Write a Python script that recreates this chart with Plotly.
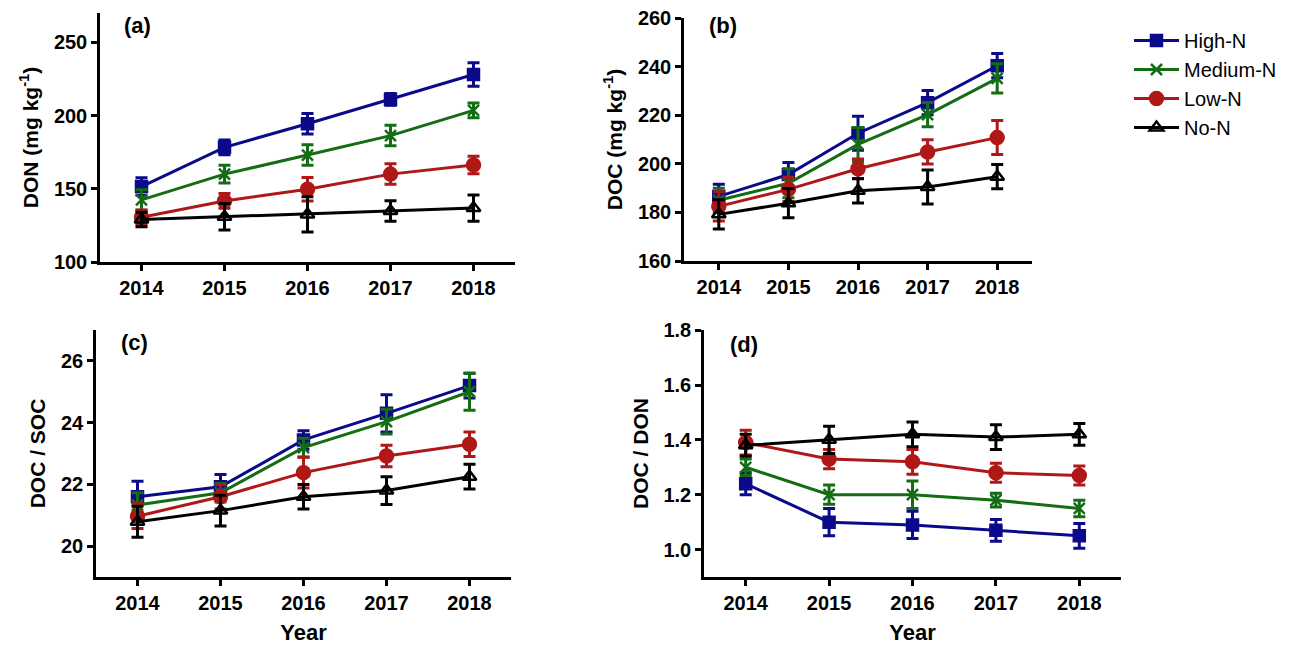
import plotly.graph_objects as go

years = [2014, 2015, 2016, 2017, 2018]
treatments = ["High-N", "Medium-N", "Low-N", "No-N"]

# (a) DON
don_mean = {
    "High-N": [151.5, 178.3, 194.4, 211.0, 228.0],
    "Medium-N": [142.4, 160.0, 173.0, 186.3, 203.5],
    "Low-N": [130.5, 141.7, 149.7, 160.0, 166.2],
    "No-N": [129.0, 130.9, 132.5, 134.8, 136.8],
}
don_err = {
    "High-N": [6, 5, 7, 4, 8],
    "Medium-N": [7, 6, 7, 7, 5],
    "Low-N": [5, 5, 8, 7, 6],
    "No-N": [5, 9, 12, 7, 9],
}

# (b) DOC
doc_mean = {
    "High-N": [186.6, 195.6, 212.6, 225.2, 240.4],
    "Medium-N": [185.0, 192.0, 208.0, 220.3, 235.2],
    "Low-N": [182.5, 189.5, 198.0, 204.9, 210.8],
    "No-N": [179.2, 183.8, 188.9, 190.5, 194.7],
}
doc_err = {
    "High-N": [5, 5, 7, 5, 5],
    "Medium-N": [5, 6, 7, 5, 6],
    "Low-N": [6, 5, 4, 5, 7],
    "No-N": [6, 6, 5, 7, 5],
}

# (c) DOC / SOC
docsoc_mean = {
    "High-N": [21.6, 21.92, 23.44, 24.3, 25.2],
    "Medium-N": [21.33, 21.73, 23.19, 24.03, 25.0],
    "Low-N": [20.97, 21.6, 22.38, 22.92, 23.3],
    "No-N": [20.79, 21.15, 21.6, 21.8, 22.25],
}
docsoc_err = {
    "High-N": [0.5, 0.4, 0.3, 0.6, 0.4],
    "Medium-N": [0.4, 0.3, 0.3, 0.4, 0.6],
    "Low-N": [0.4, 0.4, 0.5, 0.35, 0.4],
    "No-N": [0.5, 0.5, 0.4, 0.45, 0.4],
}

# (d) DOC / DON
docdon_mean = {
    "High-N": [1.24, 1.10, 1.09, 1.07, 1.05],
    "Medium-N": [1.30, 1.20, 1.20, 1.18, 1.15],
    "Low-N": [1.39, 1.33, 1.32, 1.28, 1.27],
    "No-N": [1.38, 1.40, 1.42, 1.41, 1.42],
}
docdon_err = {
    "High-N": [0.04, 0.05, 0.05, 0.04, 0.045],
    "Medium-N": [0.03, 0.035, 0.05, 0.025, 0.03],
    "Low-N": [0.045, 0.035, 0.045, 0.035, 0.035],
    "No-N": [0.04, 0.05, 0.045, 0.045, 0.04],
}

colors = {"High-N": "#0a0a8a", "Medium-N": "#146c14", "Low-N": "#b01818", "No-N": "#000000"}
markers = {
    "High-N": dict(symbol="square", size=11),
    "Medium-N": dict(symbol="x-thin", size=11),
    "Low-N": dict(symbol="circle", size=13),
    "No-N": dict(symbol="triangle-up-open", size=12),
}

W, H = 1298, 650
FONT = "Liberation Sans, Arial, sans-serif"
# page puts the figure a few px in from the corner
OX, OY = 5, 8


def px_x(px):
    return (px - OX) / W


def px_y(py):
    return 1 - (py - OY) / H


# panel boxes in pixels: (left, right, top, bottom)
panels = [
    dict(box=(97, 512, 13, 262), yr=[100, 270], t0=100, dt=50, mean=don_mean, err=don_err,
         ytitle="DON (mg kg<sup>-1</sup>)", label="(a)", lab_xy=(134, 26), xtitle=None),
    dict(box=(681, 1029, 18, 261), yr=[160, 260.05], t0=160, dt=20, mean=doc_mean, err=doc_err,
         ytitle="DOC (mg kg<sup>-1</sup>)", label="(b)", lab_xy=(720, 26), xtitle=None),
    dict(box=(93, 508, 330, 577), yr=[19, 27], t0=20, dt=2, mean=docsoc_mean, err=docsoc_err,
         ytitle="DOC / SOC", label="(c)", lab_xy=(131, 342), xtitle="Year"),
    dict(box=(701, 1118, 330, 577), yr=[0.9, 1.8005], t0=1.0, dt=0.2, mean=docdon_mean, err=docdon_err,
         ytitle="DOC / DON", label="(d)", lab_xy=(741, 344), xtitle="Year"),
]

fig = go.Figure()
annotations = []

for i, p in enumerate(panels):
    n = "" if i == 0 else str(i + 1)
    l, r, t, b = p["box"]
    for tr in treatments:
        fig.add_trace(go.Scatter(
            x=years, y=p["mean"][tr], name=tr, mode="lines+markers",
            xaxis="x" + n, yaxis="y" + n,
            line=dict(color=colors[tr], width=3),
            marker=dict(color=colors[tr], line=dict(color=colors[tr], width=2.5), **markers[tr]),
            error_y=dict(type="data", array=p["err"][tr], color=colors[tr], thickness=3, width=6),
            showlegend=(i == 1), legendgroup=tr,
        ))
    axis_common = dict(showline=True, linecolor="black", linewidth=2.5, ticks="outside",
                       ticklen=6, tickwidth=2.5, tickcolor="black", showgrid=False, zeroline=False,
                       automargin=False, ticklabeloverflow="allow",
                       tickfont=dict(family=FONT, size=20, color="black", weight="bold"))
    xaxis = dict(domain=[px_x(l), px_x(r)], anchor="y" + n, range=[2013.5, 2018.5],
                 tickvals=years, **axis_common)
    if p["xtitle"]:
        xaxis["title"] = dict(text=p["xtitle"], standoff=12,
                              font=dict(family=FONT, size=22, color="black", weight="bold"))
    fig.layout["xaxis" + n] = xaxis
    fig.layout["yaxis" + n] = dict(
        domain=[px_y(b), px_y(t)], anchor="x" + n, range=p["yr"], dtick=p["dt"],
        tick0=p["t0"], tickformat=".1f" if i == 3 else "d",
        title=dict(text=p["ytitle"], font=dict(family=FONT, size=21, color="black", weight="bold"), standoff=10),
        **axis_common)
    annotations.append(dict(text=p["label"], x=px_x(p["lab_xy"][0]), y=px_y(p["lab_xy"][1]),
                            xref="paper", yref="paper", xanchor="center", yanchor="middle",
                            showarrow=False,
                            font=dict(family=FONT, size=22, color="black", weight="bold")))

fig.update_layout(
    width=W, height=H,
    margin=dict(l=0, r=0, t=0, b=0),
    plot_bgcolor="white", paper_bgcolor="white",
    annotations=annotations,
    legend=dict(x=px_x(1126), y=px_y(21), xanchor="left", yanchor="top",
                font=dict(family=FONT, size=20, color="black"),
                itemwidth=45, tracegroupgap=0, bgcolor="rgba(0,0,0,0)"),
)

fig.write_html("out.html")
